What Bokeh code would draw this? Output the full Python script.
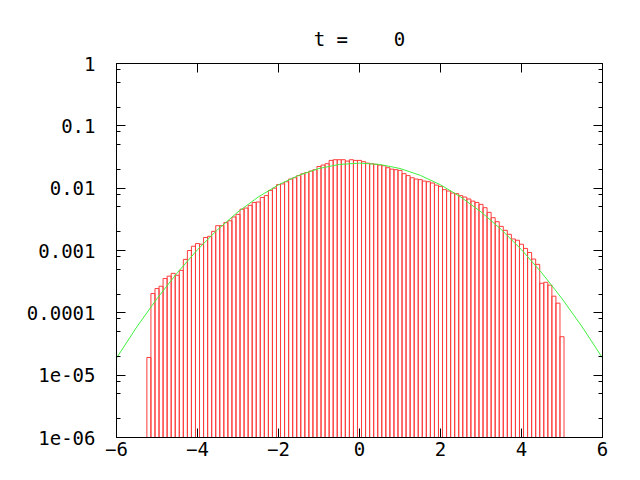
import json
import math
from bokeh.plotting import figure
from bokeh.models import (FixedTicker, LinearAxis, LogAxis, CustomJSTickFormatter)
from bokeh.embed import file_html
from bokeh.resources import INLINE

# ---- data ----
title_text = "t = \u00a0\u00a0\u00a00"
bin_first_center = -5.2
bin_width = 0.1
bar_values = [
    1.92e-5, 2.04e-4, 2.45e-4, 2.67e-4, 3.55e-4, 3.88e-4, 4.3e-4, 4.0e-4, 4.8e-4, 7.2e-4,
    1.0e-3, 1.17e-3, 1.29e-3, 1.26e-3, 1.62e-3, 1.69e-3, 2.03e-3, 2.5e-3, 2.5e-3, 2.8e-3,
    3.0e-3, 3.45e-3, 3.8e-3, 4.6e-3, 4.8e-3, 5.3e-3, 5.9e-3, 6.0e-3, 7.1e-3, 7.6e-3,
    9.2e-3, 1.0e-2, 1.14e-2, 1.17e-2, 1.27e-2, 1.40e-2, 1.47e-2, 1.59e-2, 1.70e-2, 1.78e-2,
    1.88e-2, 1.98e-2, 2.23e-2, 2.35e-2, 2.47e-2, 2.79e-2, 2.86e-2, 2.86e-2, 2.86e-2, 2.72e-2,
    2.86e-2, 2.79e-2, 2.79e-2, 2.66e-2, 2.52e-2, 2.47e-2, 2.41e-2, 2.35e-2, 2.29e-2, 2.13e-2,
    2.02e-2, 1.98e-2, 1.93e-2, 1.71e-2, 1.59e-2, 1.47e-2, 1.40e-2, 1.37e-2, 1.30e-2, 1.27e-2,
    1.21e-2, 1.12e-2, 1.07e-2, 9.46e-3, 9.0e-3, 8.35e-3, 8.16e-3, 7.58e-3, 7.2e-3, 6.7e-3,
    6.2e-3, 5.9e-3, 5.5e-3, 4.86e-3, 4.09e-3, 3.36e-3, 2.9e-3, 2.44e-3, 2.11e-3, 1.82e-3,
    1.53e-3, 1.46e-3, 1.26e-3, 1.08e-3, 9.3e-4, 7.3e-4, 6.0e-4, 2.98e-4, 3.09e-4, 2.78e-4,
    1.85e-4, 1.43e-4, 4.14e-5,
]
curve_x = [-6.0, -5.5, -5.0, -4.5, -4.0, -3.5, -3.0, -2.5, -2.0, -1.5, -1.0, -0.5, 0.0,
           0.5, 1.0, 1.5, 2.0, 2.5, 3.0, 3.5, 4.0, 4.5, 5.0, 5.5, 6.0]
curve_y = [1.88e-5, 5.93e-5, 1.69e-4, 4.39e-4, 1.03e-3, 2.17e-3, 4.17e-3, 7.22e-3, 1.133e-2,
           1.607e-2, 2.07e-2, 2.40e-2, 2.52e-2, 2.40e-2, 2.07e-2, 1.607e-2, 1.133e-2, 7.22e-3,
           4.17e-3, 2.17e-3, 1.03e-3, 4.39e-4, 1.69e-4, 5.93e-5, 1.88e-5]
x_ticks = [-6, -4, -2, 0, 2, 4, 6]
y_ticks = [1e-6, 1e-5, 1e-4, 1e-3, 1e-2, 1e-1, 1]
y_tick_labels = ["1e-06", "1e-05", "0.0001", "0.001", "0.01", "0.1", "1"]
y_minor_mult = [2, 5, 8]

FONT = "DejaVu Sans Mono"
FS = "19px"
BAR_COLOR = "#ff3c3c"
CURVE_COLOR = "#40f040"

centers = [round(bin_first_center + bin_width * i, 2) for i in range(len(bar_values))]
lefts = [c - bin_width / 2 for c in centers]
rights = [c + bin_width / 2 for c in centers]
bottoms = [y_ticks[0]] * len(bar_values)

p = figure(width=624, height=464, output_backend="svg", toolbar_location=None,
           y_axis_type="log", x_range=(-6, 6), y_range=(1e-6, 1),
           min_border_left=116, min_border_right=22, min_border_top=63,
           min_border_bottom=27)

p.quad(left=lefts, right=rights, top=bar_values, bottom=bottoms,
       fill_color=None, line_color=BAR_COLOR, line_width=1)
p.line(curve_x, curve_y, line_color=CURVE_COLOR, line_width=1)

p.xgrid.visible = False
p.ygrid.visible = False
p.outline_line_color = "black"

y_minor = [m * t for t in y_ticks[:-1] for m in y_minor_mult]
label_map = {str(round(math.log10(t))): l for t, l in zip(y_ticks, y_tick_labels)}
yfmt_code = "const m = %s; return m[String(Math.round(Math.log10(tick)))];" % json.dumps(label_map)


def style(ax):
    ax.major_tick_in = 9
    ax.major_tick_out = 0
    ax.minor_tick_in = 4
    ax.minor_tick_out = 0
    ax.axis_line_color = "black"
    ax.major_tick_line_color = "black"
    ax.minor_tick_line_color = "black"
    ax.major_label_text_font = FONT
    ax.major_label_text_font_size = FS
    ax.major_label_text_color = "black"


xa = p.xaxis[0]
xa.ticker = FixedTicker(ticks=x_ticks)
style(xa)
xa.major_label_standoff = 4

ya = p.yaxis[0]
ya.ticker = FixedTicker(ticks=y_ticks, minor_ticks=y_minor)
ya.formatter = CustomJSTickFormatter(code=yfmt_code)
style(ya)
ya.major_label_standoff = 21

top_ax = LinearAxis(ticker=FixedTicker(ticks=x_ticks),
                    formatter=CustomJSTickFormatter(code="return '';"))
style(top_ax)
top_ax.major_label_text_font_size = "0px"
top_ax.major_label_standoff = 0
p.add_layout(top_ax, "above")

right_ax = LogAxis(ticker=FixedTicker(ticks=y_ticks, minor_ticks=y_minor),
                   formatter=CustomJSTickFormatter(code="return '';"))
style(right_ax)
right_ax.major_label_text_font_size = "0px"
right_ax.major_label_standoff = 0
p.add_layout(right_ax, "right")

p.title.text = title_text
p.title.align = "center"
p.title.text_font = FONT
p.title.text_font_size = FS
p.title.text_font_style = "normal"
p.title.text_color = "black"
p.title.standoff = 27

open("out.html", "w").write(file_html(p, INLINE))
